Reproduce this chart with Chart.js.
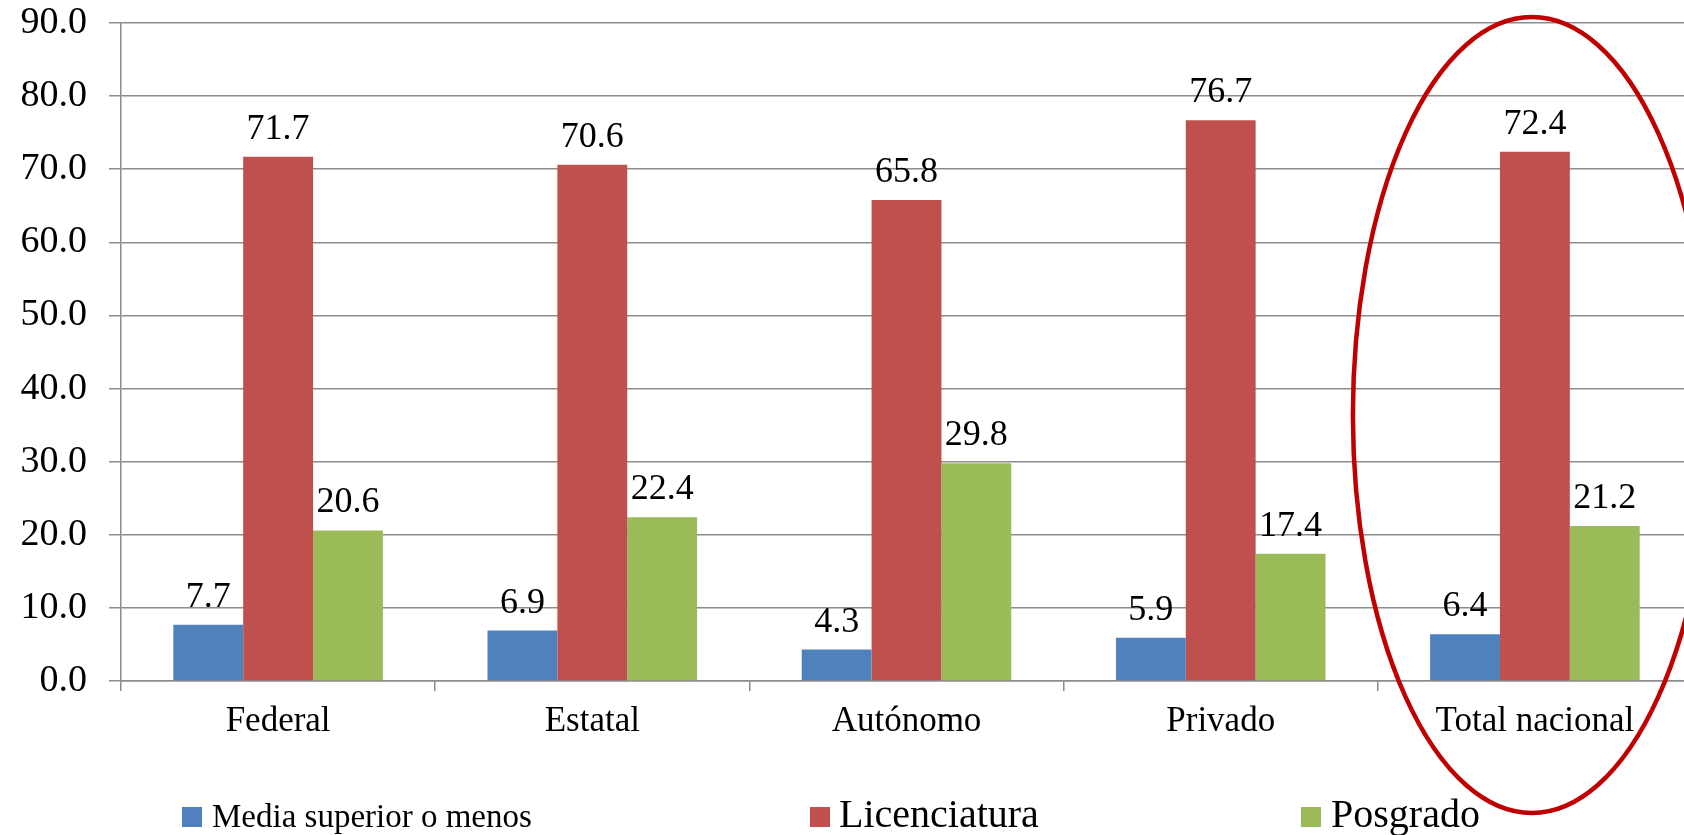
<!DOCTYPE html>
<html>
<head>
<meta charset="utf-8">
<script src="https://cdn.jsdelivr.net/npm/chart.js@4.4.1/dist/chart.umd.min.js"></script>
<style>
  html, body { margin: 0; padding: 0; background: #fff; overflow: hidden; }
  #wrap { position: relative; width: 1700px; height: 835px; }
</style>
</head>
<body>
<div id="wrap"><canvas id="chart"></canvas></div>
<script>
// values
const categories = ['Federal', 'Estatal', 'Autónomo', 'Privado', 'Total nacional'];
const mediaSuperior = [7.7, 6.9, 4.3, 5.9, 6.4];
const licenciatura = [71.7, 70.6, 65.8, 76.7, 72.4];
const posgrado = [20.6, 22.4, 29.8, 17.4, 21.2];
const seriesNames = ['Media superior o menos', 'Licenciatura', 'Posgrado'];
const seriesColors = ['#4f81bd', '#c0504d', '#9bbb59'];
const yTicks = [0, 10, 20, 30, 40, 50, 60, 70, 80, 90];

const FONT = '"Liberation Serif", "Times New Roman", serif';
const GRID = '#8c8c8c';

// legend items: box left, text left, font size (legend is custom since sizes differ)
const legendLayout = [
  { box: 182, text: 212, size: 33 },
  { box: 810, text: 839, size: 40 },
  { box: 1301, text: 1331, size: 40 },
];

const valueLabels = {
  id: 'valueLabels',
  afterDatasetsDraw(chart) {
    const ctx = chart.ctx;
    ctx.save();
    ctx.font = '36px ' + FONT;
    ctx.fillStyle = '#000';
    ctx.textAlign = 'center';
    ctx.textBaseline = 'alphabetic';
    chart.data.datasets.forEach((ds, i) => {
      chart.getDatasetMeta(i).data.forEach((bar, j) => {
        ctx.fillText(ds.data[j].toFixed(1), bar.x, bar.y - 18);
      });
    });
    ctx.restore();
  }
};

const legendAndMark = {
  id: 'legendAndMark',
  afterDraw(chart) {
    const ctx = chart.ctx;
    ctx.save();
    chart.data.datasets.forEach((ds, i) => {
      const l = legendLayout[i];
      ctx.fillStyle = ds.backgroundColor;
      ctx.fillRect(l.box, 807, 20, 20);
      ctx.fillStyle = '#000';
      ctx.font = l.size + 'px ' + FONT;
      ctx.textAlign = 'left';
      ctx.textBaseline = 'alphabetic';
      ctx.fillText(ds.label, l.text, 827);
    });
    // red ellipse around "Total nacional"
    const xs = chart.scales.x;
    const cx = xs.getPixelForValue(categories.length - 1) - 3;
    const top = 17;
    const bottom = 813;
    ctx.beginPath();
    ctx.ellipse(cx, (top + bottom) / 2, 179, (bottom - top) / 2, 0, 0, Math.PI * 2);
    ctx.strokeStyle = '#c00000';
    ctx.lineWidth = 4.5;
    ctx.stroke();
    ctx.restore();
  }
};

const ctx = document.getElementById('chart').getContext('2d');
new Chart(ctx, {
  type: 'bar',
  data: {
    labels: categories,
    datasets: [mediaSuperior, licenciatura, posgrado].map((d, i) => ({
      label: seriesNames[i],
      data: d,
      backgroundColor: seriesColors[i],
      borderWidth: 0,
      categoryPercentage: 0.667,
      barPercentage: 1.0
    }))
  },
  options: {
    responsive: true, maintainAspectRatio: false, animation: false,
    layout: { padding: { top: 23, right: 8, left: 0, bottom: 0 } },
    plugins: { legend: { display: false }, tooltip: { enabled: false } },
    scales: {
      y: {
        min: 0, max: 90,
        afterBuildTicks: s => { s.ticks = yTicks.map(v => ({ value: v })); },
        afterFit: s => { s.width = 121; s.paddingTop = 0; s.paddingBottom = 0; },
        ticks: { callback: v => v.toFixed(1), color: '#000', padding: 22, font: { family: FONT, size: 38 } },
        grid: { color: GRID, lineWidth: 1.5, tickLength: 12 },
        border: { color: GRID, width: 1.5 }
      },
      x: {
        afterFit: s => { s.height = 154; },
        ticks: { color: '#000', padding: 10, font: { family: FONT, size: 35 }, maxRotation: 0 },
        grid: { color: GRID, lineWidth: 1.5, drawOnChartArea: false, tickLength: 10, offset: true },
        border: { color: GRID, width: 1.5 }
      }
    }
  },
  plugins: [valueLabels, legendAndMark]
});
</script>
</body>
</html>
